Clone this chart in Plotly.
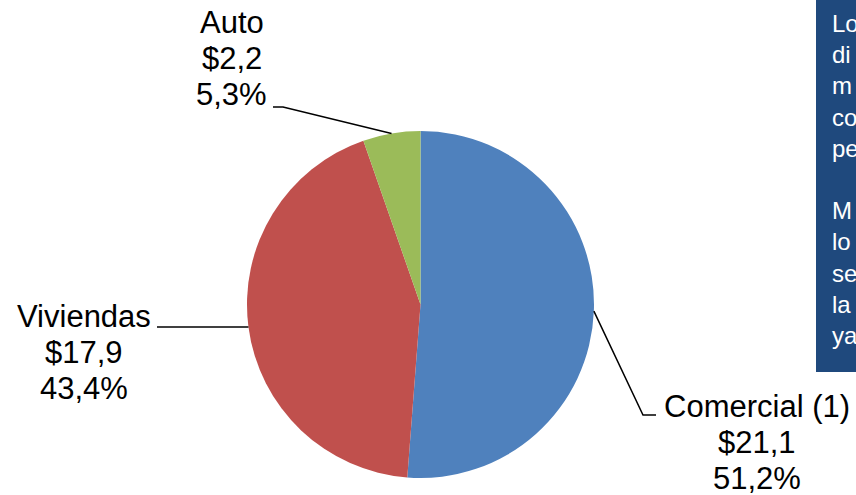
import math
import plotly.graph_objects as go

# ---- data ----
categories = ["Comercial (1)", "Viviendas", "Auto"]
values = [21.1, 17.9, 2.2]
value_labels = ["$21,1", "$17,9", "$2,2"]
pct_labels = ["51,2%", "43,4%", "5,3%"]
colors = ["#4F81BD", "#C0504D", "#9BBB59"]
note_lines = ["Lo", "di", "m", "co", "pe", "", "M", "lo", "se", "la", "ya"]

W, H = 856, 495
FONT = "Liberation Sans, Arial, sans-serif"

# pie geometry in pixels
cx, cy, r = 420.5, 304.5, 173.5
dom_x = [(cx - r) / W, (cx + r) / W]
dom_y = [1 - (cy + r) / H, 1 - (cy - r) / H]


def px(x):
    return x / W


def py(y):
    return 1 - y / H


fig = go.Figure(go.Pie(
    labels=categories,
    values=values,
    marker=dict(colors=colors, line=dict(width=0)),
    sort=False,
    direction="clockwise",
    rotation=0,
    textinfo="none",
    hoverinfo="label+value+percent",
    domain=dict(x=dom_x, y=dom_y),
))

# slice mid points on the rim, from the data
total = sum(values)
mid_pts = []
cum = 0.0
for v in values:
    th = 2 * math.pi * (cum + v / total / 2)
    mid_pts.append((cx + r * math.sin(th), cy - r * math.cos(th)))
    cum += v / total

# label block layout (pixel centre x, baseline of first line) and leader elbows
label_pos = [(757, 417), (84, 327), (232, 33)]
leader_text_pts = [
    [(656, 415), (643, 415)],
    [(157, None)],
    [(273, 107), (283, 107)],
]
LS = 36
FS = 31

annotations = []
shapes = []
for i, cat in enumerate(categories):
    xc, base = label_pos[i]
    for j, t in enumerate([cat, value_labels[i], pct_labels[i]]):
        annotations.append(dict(
            x=px(xc), y=py(base + j * LS - 10.5), xref="paper", yref="paper",
            text=t, showarrow=False, xanchor="center", yanchor="middle",
            font=dict(family=FONT, size=FS, color="#000000"),
        ))
    mx, my = mid_pts[i]
    pts = [(x, my if y is None else y) for x, y in leader_text_pts[i]] + [(mx, my)]
    path = "M " + " L ".join(f"{px(x)},{py(y)}" for x, y in pts)
    shapes.append(dict(type="path", xref="paper", yref="paper", path=path,
                       line=dict(color="#000000", width=1.5)))

# dark blue note box at the right (cut off by the page edge)
shapes.append(dict(type="rect", xref="paper", yref="paper",
                   x0=px(816), x1=px(900), y0=py(372), y1=py(-5),
                   fillcolor="#1F497D", line=dict(width=0), layer="above"))
annotations.append(dict(
    x=px(830), y=py(8), xref="paper", yref="paper",
    text="<br>".join(t if t else " " for t in note_lines),
    showarrow=False, xanchor="left", yanchor="top", align="left",
    font=dict(family=FONT, size=24, color="#FFFFFF"),
))

fig.update_layout(
    width=W, height=H,
    margin=dict(l=0, r=0, t=0, b=0),
    paper_bgcolor="#FFFFFF",
    plot_bgcolor="#FFFFFF",
    showlegend=False,
    shapes=shapes,
    annotations=annotations,
)

fig.write_html(
    "out.html",
    config={"displayModeBar": False},
    post_script="document.body.style.margin='0';document.body.style.overflow='hidden';",
)
